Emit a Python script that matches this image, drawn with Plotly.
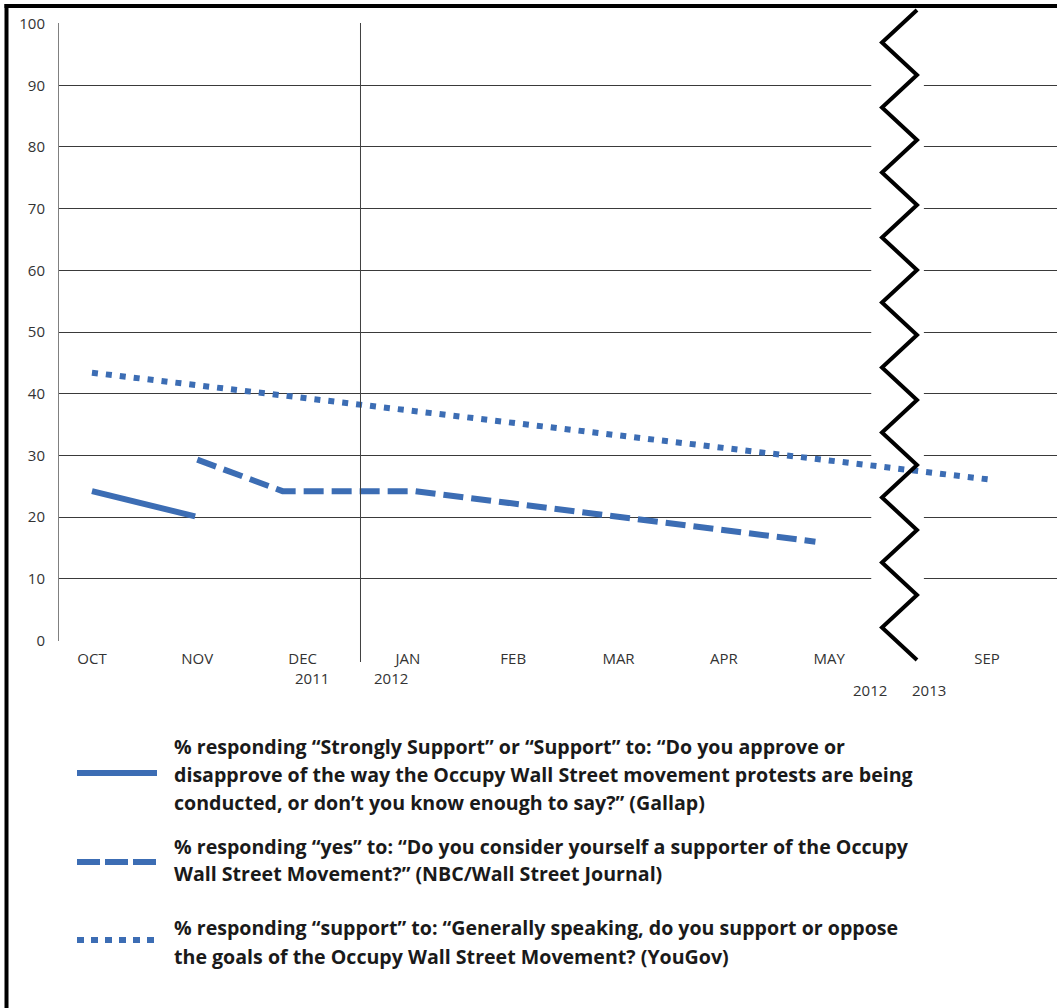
import plotly.graph_objects as go

# ---------------- data ----------------
months = ["OCT", "NOV", "DEC", "JAN", "FEB", "MAR", "APR", "MAY", "SEP"]
month_pos = [0, 1, 2, 3, 4, 5, 6, 7, 8.5]          # SEP sits after the 2012/2013 break
y_ticks = [0, 10, 20, 30, 40, 50, 60, 70, 80, 90, 100]

# Gallup (solid)
gallup_x = [0.0, 0.98]
gallup_y = [24.2, 20.1]
# NBC / Wall Street Journal (dashed)
nbc_x = [1.0, 1.81, 3.07, 6.87]
nbc_y = [29.3, 24.2, 24.2, 16.0]
# YouGov (dotted)
yougov_x = [0.0, 2.54, 6.41, 8.56]
yougov_y = [43.4, 38.2, 30.3, 26.0]

year_labels = ["2011", "2012", "2012", "2013"]

legend_blocks = [
    ["% responding “Strongly Support” or “Support” to: “Do you approve or",
     "disapprove of the way the Occupy Wall Street movement protests are being",
     "conducted, or don’t you know enough to say?” (Gallap)"],
    ["% responding “yes” to: “Do you consider yourself a supporter of the Occupy",
     "Wall Street Movement?” (NBC/Wall Street Journal)"],
    ["% responding “support” to: “Generally speaking, do you support or oppose",
     "the goals of the Occupy Wall Street Movement? (YouGov)"],
]

# ---------------- styling / geometry ----------------
BLUE = "#3C6DB4"
FONT = "Open Sans"
W, H = 1057, 1008
L, T, B, R = 59, 23, 641, 1057
PW, PH = R - L, B - T
XR = [-0.313, 9.164]
YR = [-0.1, 100.1]


def px(xp):
    return (xp - L) / PW


def py(yp):
    return (B - yp) / PH


def xi(idx):
    return (idx - XR[0]) / (XR[1] - XR[0])


fig = go.Figure()
fig.add_trace(go.Scatter(x=yougov_x, y=yougov_y, mode="lines",
                         line=dict(color=BLUE, width=6, dash="6px,8px"),
                         hoverinfo="skip"))
fig.add_trace(go.Scatter(x=nbc_x, y=nbc_y, mode="lines",
                         line=dict(color=BLUE, width=6, dash="20px,8px"),
                         hoverinfo="skip"))
fig.add_trace(go.Scatter(x=gallup_x, y=gallup_y, mode="lines",
                         line=dict(color=BLUE, width=6),
                         hoverinfo="skip"))

shapes = []
# white gap behind the axis break (covers gridlines)
shapes.append(dict(type="rect", xref="x", yref="y", x0=7.4, x1=7.9, y0=-5, y1=105,
                   fillcolor="white", line=dict(width=0), layer="between"))
# zigzag break
pts = []
for k in range(21):
    xx = 917 if k % 2 == 0 else 882
    yy = 10 + 32.5 * k
    pts.append(f"{px(xx):.5f},{py(yy):.5f}")
path = "M " + " L ".join(pts)
shapes.append(dict(type="path", xref="paper", yref="paper", path=path,
                   line=dict(color="black", width=4), layer="above"))
# DEC / JAN year separator
shapes.append(dict(type="line", xref="paper", yref="paper", x0=xi(2.55), x1=xi(2.55),
                   y0=py(662), y1=1, line=dict(color="#404040", width=1), layer="above"))
# outer frame (top and left)
shapes.append(dict(type="line", xref="paper", yref="paper", x0=px(6.5), x1=px(6.5),
                   y0=py(4), y1=py(1015), line=dict(color="black", width=4), layer="above"))
shapes.append(dict(type="line", xref="paper", yref="paper", x0=px(4.5), x1=px(1065),
                   y0=py(6), y1=py(6), line=dict(color="black", width=4), layer="above"))
# legend samples
shapes.append(dict(type="line", xref="paper", yref="paper", x0=px(77), x1=px(157),
                   y0=py(773), y1=py(773), line=dict(color=BLUE, width=6)))
shapes.append(dict(type="line", xref="paper", yref="paper", x0=px(77), x1=px(156),
                   y0=py(862), y1=py(862), line=dict(color=BLUE, width=6, dash="23px,5px")))
shapes.append(dict(type="line", xref="paper", yref="paper", x0=px(77), x1=px(158),
                   y0=py(940), y1=py(940), line=dict(color=BLUE, width=6, dash="7px,7px")))

annotations = []
year_xy = [(312, 678), (391, 678), (870, 690), (929, 690)]
for txt, (ax_, ay_) in zip(year_labels, year_xy):
    annotations.append(dict(text=txt, xref="paper", yref="paper", x=px(ax_), y=py(ay_),
                            xanchor="center", yanchor="middle", showarrow=False,
                            font=dict(family=FONT, size=15, color="#333333")))

line_centers = [[746, 774, 802], [846, 874], [928, 956]]
for block, centers in zip(legend_blocks, line_centers):
    for txt, cy in zip(block, centers):
        annotations.append(dict(text=f"<b>{txt}</b>", xref="paper", yref="paper",
                                x=px(172), y=py(cy), xanchor="left", yanchor="middle",
                                showarrow=False,
                                font=dict(family=FONT, size=19.6, color="#1a1a1a")))

fig.update_layout(
    width=W, height=H,
    margin=dict(l=L, r=W - R, t=T, b=H - B, pad=0),
    paper_bgcolor="white", plot_bgcolor="white",
    showlegend=False,
    shapes=shapes, annotations=annotations,
    font=dict(family=FONT, size=15, color="#333333"),
    xaxis=dict(range=XR, tickmode="array", tickvals=month_pos, ticktext=months,
               showgrid=False, zeroline=False, showline=False, ticks="",
               ticklabelstandoff=7,
               tickfont=dict(family=FONT, size=15, color="#333333"),
               fixedrange=True),
    yaxis=dict(range=YR, tickmode="array", tickvals=y_ticks,
               showgrid=True, gridcolor="#3a3a3a", gridwidth=1,
               zeroline=False, showline=True, linecolor="#808080", linewidth=1,
               ticks="", ticklabelstandoff=10,
               tickfont=dict(family=FONT, size=15, color="#333333"),
               fixedrange=True),
)

fig.write_html("out.html", config={"displayModeBar": False, "staticPlot": True})
